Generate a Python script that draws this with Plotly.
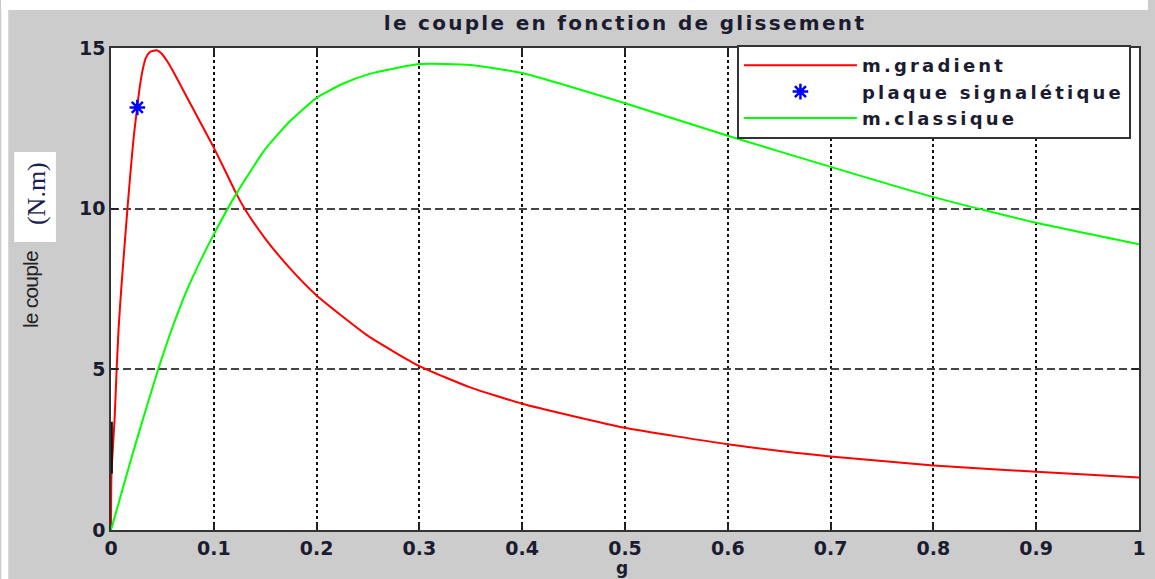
import plotly.graph_objects as go

# ---------------- data ----------------
g_gradient = [0, 0.0005, 0.0035, 0.0055, 0.0075, 0.010, 0.013, 0.016, 0.019, 0.022,
              0.0256, 0.0285, 0.031, 0.034, 0.038, 0.0445, 0.05, 0.055, 0.06, 0.07,
              0.08, 0.09, 0.1, 0.11, 0.122, 0.13, 0.15, 0.175, 0.2, 0.25,
              0.3, 0.35, 0.4, 0.5, 0.6, 0.7, 0.8, 0.9, 1.0]
c_gradient = [0, 1.8, 3.45, 5.0, 6.33, 7.52, 8.77, 10.0, 11.15, 12.2,
              13.2, 13.9, 14.35, 14.7, 14.88, 14.93, 14.8, 14.57, 14.3, 13.7,
              13.1, 12.5, 11.9, 11.25, 10.46, 10.0, 9.07, 8.11, 7.3, 6.04,
              5.1, 4.43, 3.93, 3.18, 2.67, 2.29, 2.01, 1.81, 1.63]

g_classique = [0, 0.0122, 0.0236, 0.0454, 0.0606, 0.075, 0.0889, 0.1, 0.1218, 0.15,
               0.174, 0.2, 0.225, 0.25, 0.3, 0.35, 0.4, 0.5, 0.6, 0.7, 0.8, 0.9, 1.0]
c_classique = [0, 1.38, 2.65, 4.95, 6.38, 7.55, 8.5, 9.2, 10.46, 11.85,
               12.72, 13.45, 13.88, 14.18, 14.5, 14.47, 14.22, 13.28, 12.27, 11.3, 10.36, 9.56, 8.89]

g_plaque = [0.0256]
c_plaque = [13.15]

g_segment = [0.0006, 0.0006]
c_segment = [1.76, 3.37]

x_ticks = [0, 0.1, 0.2, 0.3, 0.4, 0.5, 0.6, 0.7, 0.8, 0.9, 1]
y_ticks = [0, 5, 10, 15]

# ---------------- layout helpers (pixel -> paper) ----------------
W, H = 1155, 579
L, R, T, B = 110.5, 1146, 48, 530


def px(x):
    return (x - L) / (R - L)


def py(y):
    return (B - y) / (B - T)


def spaced(text, sp):
    return '<span style="letter-spacing:%spx">%s</span>' % (sp, text)


txt_col = '#1c1c30'

fig = go.Figure()
fig.add_trace(go.Scatter(x=g_gradient, y=c_gradient, mode='lines',
                         line=dict(color='#ff0000', width=2, shape='spline', smoothing=0.5),
                         name=spaced('m.gradient', 3.2)))
fig.add_trace(go.Scatter(x=g_plaque, y=c_plaque, mode='markers',
                         marker=dict(symbol='asterisk-open', size=13,
                                     line=dict(color='#0000ff', width=2.5), color='#0000ff'),
                         name=spaced('plaque signalétique', 3.2)))
fig.add_trace(go.Scatter(x=g_classique, y=c_classique, mode='lines',
                         line=dict(color='#00ff00', width=2, shape='spline', smoothing=0.5),
                         name=spaced('m.classique', 3.2)))
fig.add_trace(go.Scatter(x=g_segment, y=c_segment, mode='lines',
                         line=dict(color='#111111', width=2.5), showlegend=False))

tick_font = dict(family='DejaVu Sans', size=19, weight='bold', color=txt_col)

shapes = [
    # white strips around the grey figure area
    dict(type='rect', xref='paper', yref='paper', x0=px(0), x1=px(W), y0=py(10), y1=py(0),
         fillcolor='white', line=dict(width=0), layer='below'),
    dict(type='rect', xref='paper', yref='paper', x0=px(0), x1=px(7), y0=py(H), y1=py(0),
         fillcolor='white', line=dict(width=0), layer='below'),
    # white box behind the unit label
    dict(type='rect', xref='paper', yref='paper', x0=px(13), x1=px(55), y0=py(242), y1=py(152),
         fillcolor='white', line=dict(width=0), layer='below'),
]

annotations = [
    dict(text=spaced('le couple', -0.8), xref='paper', yref='paper', x=px(29), y=py(290),
         textangle=-90, showarrow=False, xanchor='center', yanchor='middle',
         font=dict(family='Liberation Sans', size=21, color='#222222')),
    dict(text='(N.m)', xref='paper', yref='paper', x=px(35), y=py(194),
         textangle=-90, showarrow=False, xanchor='center', yanchor='middle',
         font=dict(family='Liberation Serif', size=26, color='#202050')),
    dict(text='g', xref='paper', yref='paper', x=px(625), y=py(568),
         showarrow=False, xanchor='center', yanchor='middle',
         font=dict(family='DejaVu Sans', size=17, weight='bold', color=txt_col)),
]

fig.update_layout(
    width=W, height=H,
    margin=dict(l=L, r=W - R, t=T, b=H - B, pad=0),
    paper_bgcolor='#cccccc', plot_bgcolor='white',
    title=dict(text=spaced('le couple en fonction de glissement', 2.3), xref='paper', x=0.5,
               xanchor='center', y=1 - 23 / H, yanchor='middle',
               font=dict(family='DejaVu Sans', size=20, weight='bold', color=txt_col)),
    xaxis=dict(range=[0, 1], tickvals=x_ticks, ticktext=[str(v) for v in x_ticks],
               showgrid=True, gridcolor='#111111', griddash='dot', gridwidth=1.5,
               zeroline=False, showline=True, linecolor='#333333', linewidth=1.5, mirror='ticks',
               ticks='inside', ticklen=7, tickwidth=1.5, tickcolor='#222222', tickfont=tick_font),
    yaxis=dict(range=[0, 15], tickvals=y_ticks, ticktext=[str(v) for v in y_ticks],
               showgrid=True, gridcolor='#444444', griddash='8px,4px', gridwidth=1.5,
               zeroline=False, showline=True, linecolor='#333333', linewidth=1.5, mirror='ticks',
               ticks='inside', ticklen=7, tickwidth=1.5, tickcolor='#222222', tickfont=tick_font),
    legend=dict(x=px(741), y=py(45), xanchor='left', yanchor='top',
                bgcolor='white', bordercolor='#333333', borderwidth=2,
                font=dict(family='DejaVu Sans', size=18, weight='bold', color=txt_col),
                itemwidth=113, tracegroupgap=0),
    shapes=shapes,
    annotations=annotations,
    showlegend=True,
)

fig.write_html('out.html', config={'displayModeBar': False},
               post_script="document.body.style.margin='0px';")
